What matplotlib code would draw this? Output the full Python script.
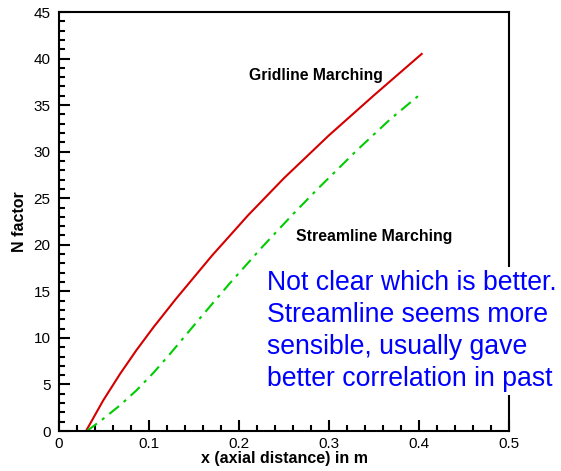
import matplotlib

matplotlib.use("Agg")
import matplotlib.pyplot as plt
from matplotlib.ticker import MultipleLocator

plt.rcParams["font.family"] = ["Liberation Sans", "DejaVu Sans"]

# N factor curves
gridline_x = [0.030, 0.049, 0.068, 0.086, 0.105, 0.130, 0.170, 0.210, 0.250, 0.300, 0.350, 0.403]
gridline_n = [0.0, 3.27, 6.16, 8.68, 11.15, 14.2, 18.84, 23.16, 27.16, 31.76, 36.06, 40.5]

streamline_x = [0.031, 0.049, 0.068, 0.086, 0.105, 0.123, 0.142, 0.160, 0.190,
                0.227, 0.260, 0.288, 0.331, 0.368, 0.403]
streamline_n = [0.0, 1.30, 2.78, 4.36, 6.26, 8.24, 10.43, 12.50, 15.89,
                19.89, 23.29, 26.06, 30.15, 33.48, 36.3]

note = ("Not clear which is better.\n"
        "Streamline seems more\n"
        "sensible, usually gave\n"
        "better correlation in past")

fig = plt.figure(figsize=(5.61, 4.71), dpi=100)
ax = fig.add_axes([0.1052, 0.0849, 0.9073 - 0.1052, 0.9745 - 0.0849])

ax.plot(gridline_x, gridline_n, color="#d40000", lw=1.5)
ax.plot(streamline_x, streamline_n, color="#00cc00", lw=1.5,
        linestyle=(0, (6, 3, 1.5, 3)))

ax.set_xlim(0, 0.5)
ax.set_ylim(0, 45)
ax.xaxis.set_major_locator(MultipleLocator(0.1))
ax.xaxis.set_minor_locator(MultipleLocator(0.02))
ax.yaxis.set_major_locator(MultipleLocator(5))
ax.yaxis.set_minor_locator(MultipleLocator(1))
ax.set_xticks([0, 0.1, 0.2, 0.3, 0.4, 0.5])
ax.set_xticklabels(["0", "0.1", "0.2", "0.3", "0.4", "0.5"])

ax.tick_params(which="both", direction="in", top=False, right=False,
               width=1.5, labelsize=11, colors="black")
ax.tick_params(which="major", length=8, pad=4)
ax.tick_params(axis="y", which="major", pad=6)
ax.tick_params(which="minor", length=4.5)
for sp in ax.spines.values():
    sp.set_linewidth(1.5)

ax.set_xlabel("x (axial distance) in m", fontsize=11.5, fontweight="bold", labelpad=0)
ax.set_ylabel("N factor", fontsize=11.5, fontweight="bold", labelpad=5)

ax.text(0.2856, 38.2, "Gridline Marching", fontsize=11.3, fontweight="bold",
        ha="center", va="center")
ax.text(0.350, 20.9, "Streamline Marching", fontsize=11.4, fontweight="bold",
        ha="center", va="center")

fig.text(267 / 561, 1 - 331 / 471, note, fontsize=19.2, color="#0000ff",
         ha="left", va="center", linespacing=1.3, zorder=5,
         bbox=dict(facecolor="white", edgecolor="none", pad=2))

fig.savefig("out.png", dpi=100)
